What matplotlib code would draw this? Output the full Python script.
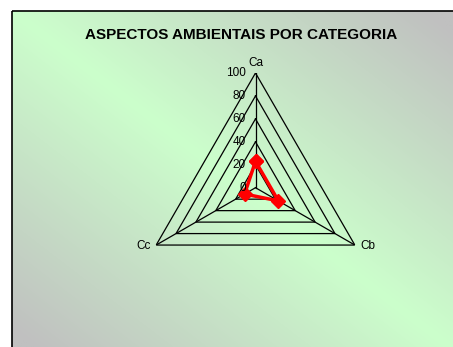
import numpy as np
import matplotlib
matplotlib.use("Agg")
import matplotlib.pyplot as plt
from matplotlib.colors import to_rgb
from matplotlib.patches import Rectangle

plt.rcParams['font.family'] = ['Liberation Sans', 'DejaVu Sans']

# data
categories = ['Ca', 'Cb', 'Cc']
values = [23, 23, 11]
levels = [0, 20, 40, 60, 80, 100]
title = 'ASPECTOS AMBIENTAIS POR CATEGORIA'

W, H = 453, 347
fig = plt.figure(figsize=(W / 100, H / 100), dpi=100)
fig.patch.set_facecolor('white')

# background panel with diagonal green/grey gradient
bg = fig.add_axes([0, 0, 1, 1], zorder=0)
bg.set_xlim(0, W)
bg.set_ylim(H, 0)
bg.axis('off')
x0, y0, x1, y1 = 12, 11, 470, 362
xx, yy = np.meshgrid(np.linspace(0, 1, 300), np.linspace(0, 1, 300))
t = np.clip(np.abs(xx - yy) * 1.1, 0, 1)[..., None]
green = np.array(to_rgb('#CCFFCC'))
grey = np.array(to_rgb('#C0C0C0'))
img = green * (1 - t) + grey * t
bg.imshow(img, extent=[x0, x1, y1, y0], aspect='auto', interpolation='bilinear')
bg.add_patch(Rectangle((x0, y0), x1 - x0, y1 - y0, fill=False, edgecolor='black', lw=1.2))

fig.text(241 / W, 1 - 35 / H, title, ha='center', va='center', fontsize=11, fontweight='bold')

# radar
R = 114.7
cx, cy = 255.5, 187.7
ax = fig.add_axes([(cx - R) / W, (H - cy - R) / H, 2 * R / W, 2 * R / H], projection='polar', zorder=1)
ax.set_theta_zero_location('N')
ax.set_theta_direction(-1)
ax.set_ylim(0, 100)
ax.axis('off')

angles = np.deg2rad(np.arange(len(categories)) * 360 / len(categories))
closed = np.append(angles, angles[0])

for lv in levels[1:]:
    ax.plot(closed, [lv] * (len(categories) + 1), color='black', lw=0.9)
for a in angles:
    ax.plot([a, a], [0, 100], color='black', lw=0.9)

for lv in levels:
    ax.annotate(str(lv), (0, lv), xytext=(-7, 0), textcoords='offset points',
                ha='right', va='center', fontsize=8.5)

offsets = [((0, 3), 'center', 'bottom'), ((4, -1), 'left', 'center'), ((-4, -1), 'right', 'center')]
for a, c, (off, ha, va) in zip(angles, categories, offsets):
    ax.annotate(c, (a, 100), xytext=off, textcoords='offset points', ha=ha, va=va, fontsize=8.5)

ax.plot(closed, values + values[:1], color='#FF0000', lw=2.5, marker='D', markersize=7,
        clip_on=False)

fig.savefig('out.png', dpi=100)
